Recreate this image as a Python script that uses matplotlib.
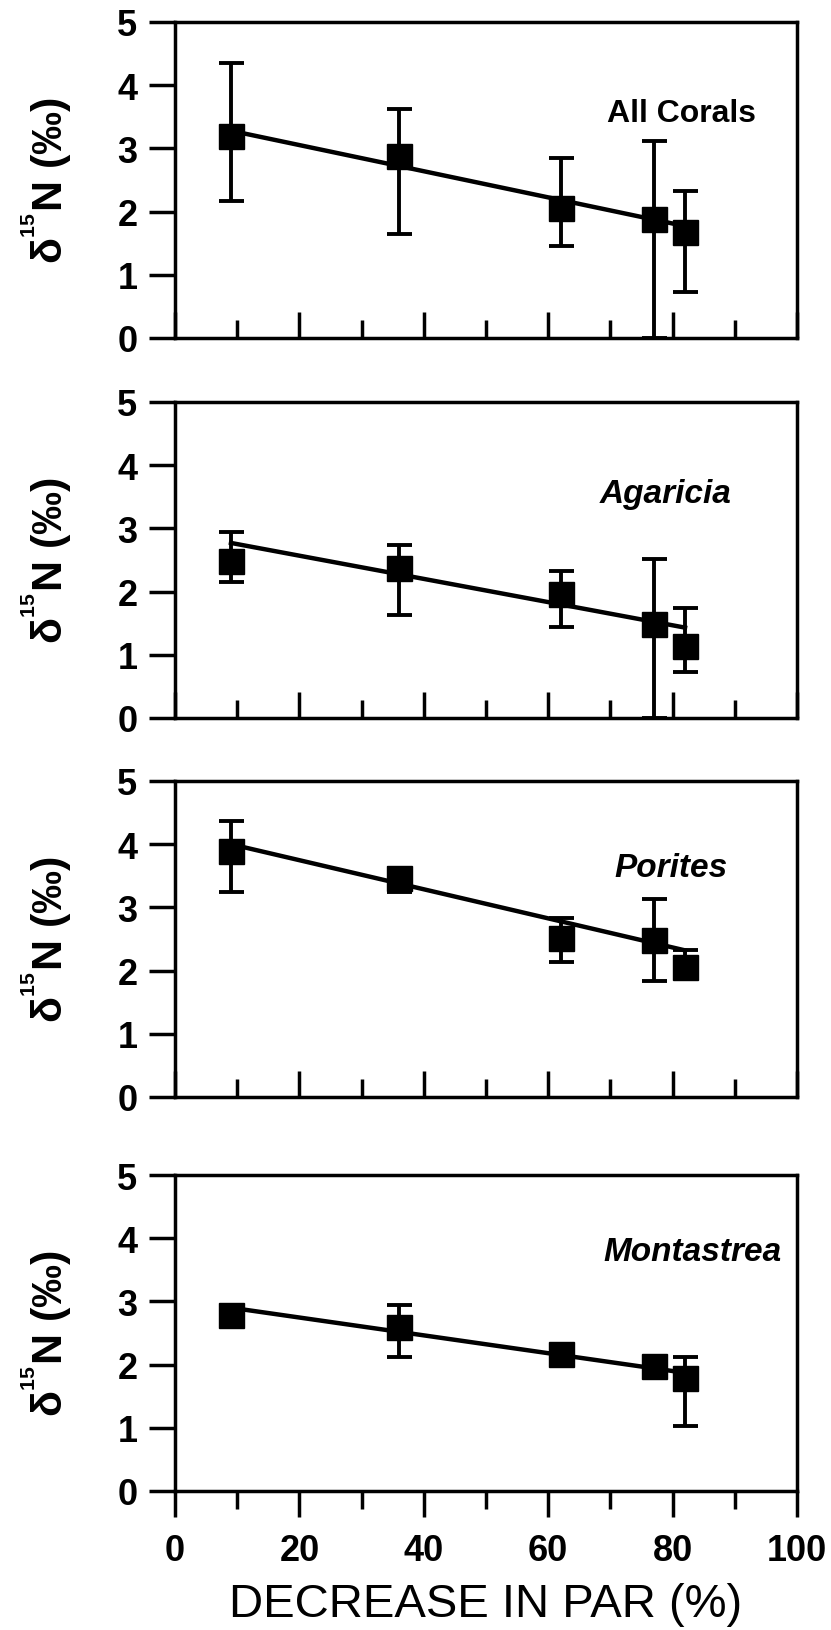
import matplotlib
matplotlib.use('Agg')
import matplotlib.pyplot as plt
from matplotlib.ticker import FixedLocator

plt.rcParams['font.family'] = ['Liberation Sans', 'DejaVu Sans']
plt.rcParams['font.weight'] = 'bold'
plt.rcParams['mathtext.fontset'] = 'custom'
plt.rcParams['mathtext.rm'] = 'Liberation Sans:bold'
plt.rcParams['mathtext.default'] = 'rm'

# decrease in PAR (%) for the five depths
x_par = [9, 36, 62, 77, 82]

# delta 15N means, lower / upper ends of error bars, and fit line ends (at first / last x)
all_y = [3.2, 2.88, 2.05, 1.88, 1.67]
all_lo = [2.16, 1.64, 1.45, 0.0, 0.73]
all_hi = [4.35, 3.63, 2.85, 3.12, 2.33]
all_fit = [3.28, 1.77]

aga_y = [2.49, 2.38, 1.96, 1.49, 1.14]
aga_lo = [2.15, 1.63, 1.44, 0.0, 0.72]
aga_hi = [2.94, 2.74, 2.33, 2.52, 1.74]
aga_fit = [2.77, 1.43]

por_y = [3.89, 3.46, 2.52, 2.48, 2.05]
por_lo = [3.25, 3.25, 2.13, 1.84, 1.95]
por_hi = [4.36, 3.62, 2.84, 3.14, 2.32]
por_fit = [4.0, 2.32]

mon_y = [2.79, 2.59, 2.17, 1.97, 1.79]
mon_lo = [2.79, 2.12, 2.17, 1.97, 1.03]
mon_hi = [2.79, 2.94, 2.17, 1.97, 2.12]
mon_fit = [2.9, 1.87]

panel_names = ['All Corals', 'Agaricia', 'Porites', 'Montastrea']
name_italic = [False, True, True, True]
name_pos = [(69.5, 3.43), (68.3, 3.42), (70.6, 3.49), (68.8, 3.65)]

y_ticks = [0, 1, 2, 3, 4, 5]
x_major = [0, 20, 40, 60, 80, 100]
x_minor = [10, 30, 50, 70, 90]

W, H = 831, 1631
ax_left, ax_right = 175, 797
# pixel rows of y=0 for each panel, panel height in pixels
zero_rows = [339, 719, 1098, 1492]
panel_h = 316


def draw_panel(ax, y, lo, hi, fit, name, italic, pos, bottom):
    yerr = [[v - l for v, l in zip(y, lo)], [h - v for v, h in zip(y, hi)]]
    ax.plot([x_par[0], x_par[-1]], fit, color='black', lw=3.2, zorder=2)
    ax.errorbar(x_par, y, yerr=yerr, fmt='s', color='black', ms=18, mec='black',
                capsize=9, elinewidth=2.8, capthick=2.8, zorder=3)
    ax.set_xlim(0, 100)
    ax.set_ylim(0, 5)
    ax.set_yticks(y_ticks)
    ax.xaxis.set_major_locator(FixedLocator(x_major))
    ax.xaxis.set_minor_locator(FixedLocator(x_minor))
    for sp in ax.spines.values():
        sp.set_linewidth(2.5)
    ax.tick_params(axis='y', direction='out', length=19, width=2.5, labelsize=26, pad=8)
    direc = 'out' if bottom else 'in'
    ax.tick_params(axis='x', which='major', direction=direc, length=19, width=2.5,
                   labelsize=26, pad=11, labelbottom=bottom)
    ax.tick_params(axis='x', which='minor', direction=direc, length=13, width=2.5)
    if italic:
        ax.text(pos[0], pos[1], name, fontsize=24, style='italic', ha='left', va='baseline')
    else:
        ax.text(pos[0], pos[1], name, fontsize=23, ha='left', va='baseline')
    ax.set_ylabel('δ$^{{}^{15}}$N (‰)', fontsize=31, fontweight='bold')
    ax.yaxis.set_label_coords(-0.207, 0.5)
    ax.yaxis.label.set_va('center')


fig = plt.figure(figsize=(W / 100, H / 100), dpi=100)

series = [
    (all_y, all_lo, all_hi, all_fit),
    (aga_y, aga_lo, aga_hi, aga_fit),
    (por_y, por_lo, por_hi, por_fit),
    (mon_y, mon_lo, mon_hi, mon_fit),
]

for i, (y, lo, hi, fit) in enumerate(series):
    ax = fig.add_axes([ax_left / W, 1 - zero_rows[i] / H,
                       (ax_right - ax_left) / W, panel_h / H])
    draw_panel(ax, y, lo, hi, fit, panel_names[i], name_italic[i], name_pos[i], i == 3)
    if i == 3:
        ax.set_xlabel('DECREASE IN PAR (%)', fontsize=34, fontweight='normal')
        ax.xaxis.set_label_coords(0.5, -0.397)
        ax.xaxis.label.set_va('baseline')

fig.savefig('out.png', dpi=100)
